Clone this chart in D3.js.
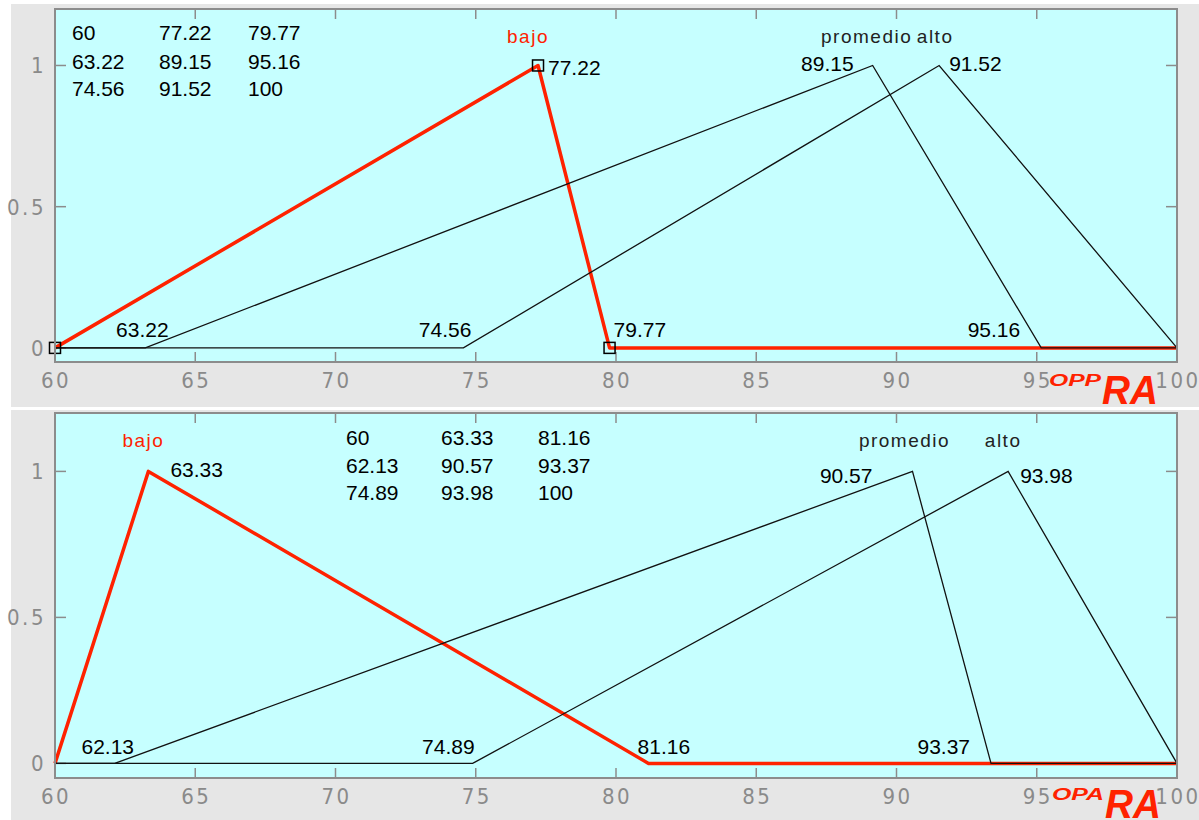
<!DOCTYPE html>
<html><head><meta charset="utf-8">
<script src="https://cdn.jsdelivr.net/npm/d3@7"></script>
<style>body{margin:0;background:#fff}svg{display:block}</style>
</head><body><svg id="c" width="1199" height="820"></svg>
<script>
// ---- data ----
const xTicks = [60, 65, 70, 75, 80, 85, 90, 95, 100];
const yTicks = [0, 0.5, 1];
const mfNames = ["bajo", "promedio", "alto"];
// panel 1: OPPRA
const oppraBajo = [60, 77.22, 79.77];
const oppraPromedio = [63.22, 89.15, 95.16];
const oppraAlto = [74.56, 91.52, 100];
const oppraTable = [["60", "77.22", "79.77"], ["63.22", "89.15", "95.16"], ["74.56", "91.52", "100"]];
// panel 2: OPARA
const oparaBajo = [60, 63.33, 81.16];
const oparaPromedio = [62.13, 90.57, 93.37];
const oparaAlto = [74.89, 93.98, 100];
const oparaTable = [["60", "63.33", "81.16"], ["62.13", "90.57", "93.37"], ["74.89", "93.98", "100"]];

const RED = "#ff2200";
const svg = d3.select("#c");

function trimf(x, p) {
  const [a, b, c] = p;
  if (x <= a || x >= c) return (x === b) ? 1 : 0;
  if (x <= b) return (b === a) ? 1 : (x - a) / (b - a);
  return (c === b) ? 1 : (c - x) / (c - b);
}
function mfPoints(p) {
  const xs = Array.from(new Set([60, p[0], p[1], p[2], 100])).sort((a, b) => a - b);
  return xs.map(x => [x, trimf(x, p)]);
}

function panel(cfg) {
  const g = svg.append("g");
  g.append("rect").attr("x", 11).attr("y", cfg.bgTop).attr("width", 1188).attr("height", cfg.bgH).attr("fill", "#e6e6e6");
  const x = d3.scaleLinear().domain([60, 100]).range([55, 1177]);
  const y = d3.scaleLinear().domain([-0.05, 1.2]).range([cfg.bottom, cfg.top]);
  g.append("rect").attr("x", 55).attr("y", cfg.top).attr("width", 1122).attr("height", cfg.bottom - cfg.top)
    .attr("fill", "#c6ffff");

  // ticks inside
  const tk = g.append("g").attr("stroke", "#8c8c8c").attr("stroke-width", 1.5);
  xTicks.slice(1, -1).forEach(t => {
    tk.append("line").attr("x1", x(t)).attr("x2", x(t)).attr("y1", cfg.bottom).attr("y2", cfg.bottom - 10);
    tk.append("line").attr("x1", x(t)).attr("x2", x(t)).attr("y1", cfg.top).attr("y2", cfg.top + 10);
  });
  yTicks.forEach(t => {
    tk.append("line").attr("x1", 55).attr("x2", 66).attr("y1", y(t)).attr("y2", y(t));
    tk.append("line").attr("x1", 1177).attr("x2", 1166).attr("y1", y(t)).attr("y2", y(t));
  });

  // tick labels
  const tl = g.append("g").attr("fill", "#8a8a8a")
    .attr("font-family", "'Liberation Sans Narrow', 'DejaVu Sans Condensed', Arial, sans-serif")
    .attr("font-size", 22).attr("letter-spacing", 2.5);
  xTicks.forEach(t => {
    tl.append("text").attr("x", x(t) + 1).attr("y", cfg.bottom + 26).attr("text-anchor", "middle").text(t);
  });
  yTicks.forEach(t => {
    tl.append("text").attr("x", 46).attr("y", y(t) + 8).attr("text-anchor", "end").text(t);
  });

  // lines
  const line = d3.line().x(d => x(d[0])).y(d => y(d[1]));
  g.append("path").attr("d", line(mfPoints(cfg.mfs[0]))).attr("fill", "none").attr("stroke", RED)
    .attr("stroke-width", 3.5).attr("stroke-linejoin", "round");
  cfg.mfs.slice(1).forEach(p => {
    g.append("path").attr("d", line(mfPoints(p))).attr("fill", "none").attr("stroke", "#111")
      .attr("stroke-width", 1.3);
  });
  if (cfg.squares) {
    cfg.mfs[0].forEach(v => {
      g.append("rect").attr("x", x(v) - 5.5).attr("y", y(trimf(v, cfg.mfs[0])) - 5.5)
        .attr("width", 11).attr("height", 11).attr("fill", "none").attr("stroke", "#000").attr("stroke-width", 1.5);
    });
  }

  // border
  g.append("rect").attr("x", 55).attr("y", cfg.top).attr("width", 1122).attr("height", cfg.bottom - cfg.top)
    .attr("fill", "none").attr("stroke", "#8c8c8c").attr("stroke-width", 2);

  // MF names
  const nm = g.append("g").attr("font-family", "Liberation Sans, Arial, sans-serif").attr("font-size", 19)
    .attr("letter-spacing", 1.5).attr("text-anchor", "middle");
  mfNames.forEach((n, i) => {
    nm.append("text").attr("x", x(cfg.mfs[i][1]) + cfg.nameDx[i]).attr("y", cfg.nameY)
      .attr("fill", i === 0 ? RED : "#222").text(n);
  });

  // table
  const tb = g.append("g").attr("font-family", "Liberation Sans, Arial, sans-serif").attr("font-size", 21).attr("fill", "#000");
  cfg.table.forEach((row, r) => row.forEach((v, c) => {
    tb.append("text").attr("x", cfg.tableX[c]).attr("y", cfg.tableY[r]).text(v);
  }));

  // point labels
  cfg.labels.forEach(l => {
    const yy = l.v === 1 ? y(1) : y(0);
    tb.append("text").attr("x", x(l.x) + l.dx).attr("y", yy + l.dy).attr("text-anchor", l.a).text(l.x.toFixed(2));
  });

  // title
  const tf = g.append("g").attr("fill", RED).attr("font-family", "Liberation Sans, Arial, sans-serif")
    .attr("font-weight", "bold").attr("font-style", "italic");
  tf.append("text").attr("x", cfg.titleX).attr("y", cfg.titleY1).attr("font-size", 16)
    .attr("textLength", 52).attr("lengthAdjust", "spacingAndGlyphs").text(cfg.title1);
  tf.append("text").attr("x", cfg.titleX + 53).attr("y", cfg.titleY2).attr("font-size", 40)
    .attr("textLength", 56).attr("lengthAdjust", "spacingAndGlyphs").text("RA");
}

panel({
  bgTop: 4, bgH: 403, top: 9, bottom: 362,
  mfs: [oppraBajo, oppraPromedio, oppraAlto], squares: true,
  nameDx: [-10, -6, -4], nameY: 43,
  table: oppraTable, tableX: [72, 159, 248], tableY: [40, 69, 96],
  labels: [
    {x: 77.22, v: 1, dx: 10, dy: 10, a: "start"},
    {x: 89.15, v: 1, dx: -19, dy: 6, a: "end"},
    {x: 91.52, v: 1, dx: 10, dy: 6, a: "start"},
    {x: 63.22, v: 0, dx: -3, dy: -11, a: "middle"},
    {x: 74.56, v: 0, dx: 8, dy: -11, a: "end"},
    {x: 79.77, v: 0, dx: 4, dy: -11, a: "start"},
    {x: 95.16, v: 0, dx: -21, dy: -11, a: "end"}
  ],
  title1: "OPP", titleX: 1049, titleY1: 386, titleY2: 404
});

panel({
  bgTop: 410, bgH: 410, top: 413, bottom: 778,
  mfs: [oparaBajo, oparaPromedio, oparaAlto], squares: false,
  nameDx: [-5, -8, -5], nameY: 447,
  table: oparaTable, tableX: [346, 441, 538], tableY: [445, 473, 500],
  labels: [
    {x: 63.33, v: 1, dx: 22, dy: 6, a: "start"},
    {x: 90.57, v: 1, dx: -40, dy: 12, a: "end"},
    {x: 93.98, v: 1, dx: 12, dy: 12, a: "start"},
    {x: 62.13, v: 0, dx: -7, dy: -9, a: "middle"},
    {x: 74.89, v: 0, dx: 2, dy: -9, a: "end"},
    {x: 81.16, v: 0, dx: -11, dy: -9, a: "start"},
    {x: 93.37, v: 0, dx: -21, dy: -9, a: "end"}
  ],
  title1: "OPA", titleX: 1052, titleY1: 800, titleY2: 818
});
</script></body></html>
